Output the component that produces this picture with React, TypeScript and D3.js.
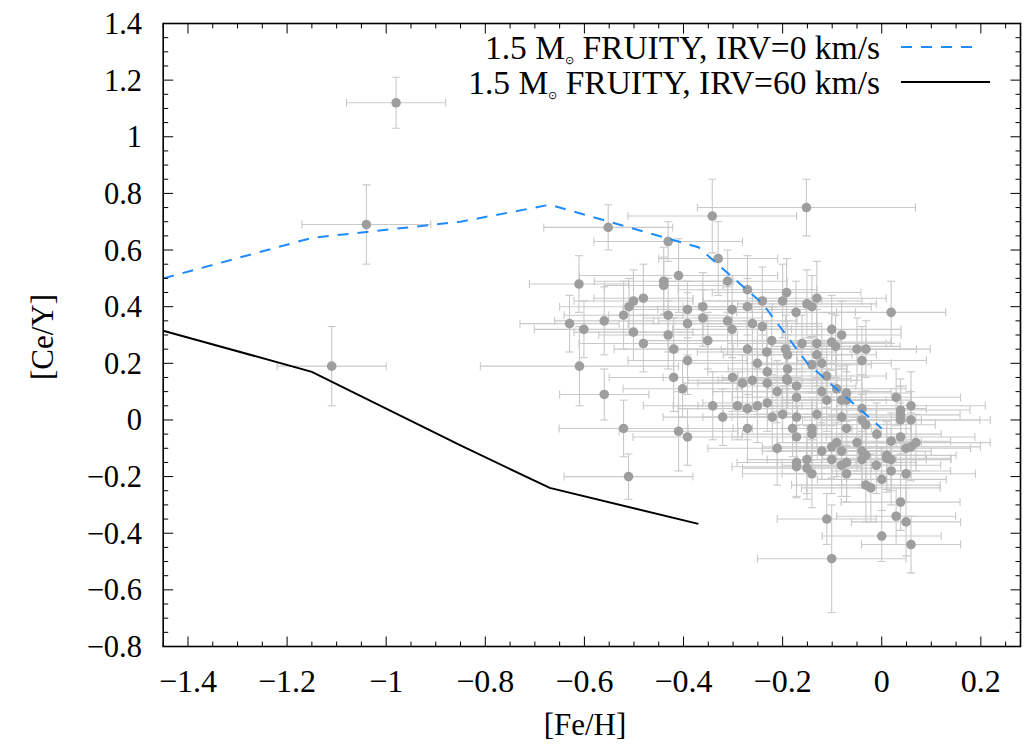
import React from 'react';
import * as d3 from 'd3';

// ---- observed stars ----
const feH = [
  -0.98, -1.04, -1.11, -0.61, -0.152, -0.342, -0.552, -0.431, -0.33, -0.611,
  -0.44, -0.44, -0.41, -0.311, -0.271, -0.241, -0.2, -0.192, -0.173, -0.271,
  -0.481, -0.501, -0.51, -0.521, -0.56, -0.63, -0.601, -0.501, -0.481, -0.431,
  -0.431, -0.392, -0.392, -0.361, -0.361, -0.311, -0.302, -0.302, -0.261, -0.241,
  -0.222, -0.351, -0.42, -0.271, -0.194, -0.151, -0.141, -0.131, 0.019, -0.101,
  -0.081, -0.161, -0.131, -0.101, -0.093, -0.05, -0.032, -0.392, -0.232, -0.19,
  -0.56, -0.42, -0.402, -0.301, -0.281, -0.261, -0.251, -0.231, -0.231, -0.211,
  -0.19, -0.19, -0.172, -0.172, -0.341, -0.321, -0.291, -0.271, -0.251, -0.231,
  -0.221, -0.2, -0.172, -0.271, -0.18, -0.172, -0.211, -0.172, -0.172, -0.521,
  -0.41, -0.392, -0.511, -0.04, -0.131, -0.121, -0.141, -0.192, -0.111, -0.091,
  -0.071, -0.081, -0.071, -0.121, -0.111, 0.029, 0.059, 0.038, 0.038, 0.059,
  0.038, -0.04, -0.04, -0.032, -0.01, -0.131, -0.081, -0.071, -0.141, -0.141,
  -0.05, -0.091, -0.101, -0.081, -0.121, -0.04, -0.032, -0.04, 0.01, 0.019,
  0.038, 0.049, 0.059, 0.069, 0.01, 0.019, -0.011, 0.019, 0.0, 0.049,
  -0.101, -0.081, -0.071, -0.071, -0.151, -0.151, -0.141, -0.032, -0.022, -0.111,
  0.029, 0.038, 0.049, 0.0, 0.059, -0.101,
];
const ceY = [
  1.12, 0.69, 0.19, 0.19, 0.75, 0.72, 0.68, 0.63, 0.57, 0.48,
  0.49, 0.475, 0.51, 0.49, 0.46, 0.42, 0.42, 0.45, 0.38, 0.4,
  0.43, 0.42, 0.4, 0.37, 0.35, 0.34, 0.32, 0.31, 0.27, 0.37,
  0.3, 0.39, 0.34, 0.4, 0.36, 0.35, 0.32, 0.39, 0.34, 0.33,
  0.28, 0.28, 0.25, 0.25, 0.25, 0.41, 0.4, 0.43, 0.38, 0.32,
  0.3, 0.27, 0.27, 0.275, 0.26, 0.25, 0.25, 0.21, 0.24, 0.23,
  0.09, 0.15, 0.11, 0.15, 0.13, 0.14, 0.2, 0.17, 0.13, 0.1,
  0.18, 0.14, 0.12, 0.08, 0.05, 0.01, 0.05, 0.04, 0.05, 0.06,
  0.01, 0.02, 0.01, -0.03, -0.03, -0.06, -0.1, -0.15, -0.165, -0.03,
  -0.04, -0.06, -0.2, 0.21, 0.23, 0.2, 0.195, 0.145, 0.155, 0.11,
  0.095, 0.07, 0.07, 0.1, 0.07, 0.08, 0.05, 0.035, 0.0, 0.0,
  0.018, 0.04, 0.0, -0.017, -0.05, 0.02, 0.01, -0.03, -0.03, -0.05,
  -0.08, -0.08, -0.095, -0.11, -0.11, -0.11, -0.125, -0.14, -0.125, -0.075,
  -0.06, -0.1, -0.095, -0.08, -0.135, -0.14, -0.16, -0.18, -0.21, -0.19,
  -0.14, -0.16, -0.15, -0.19, -0.14, -0.17, -0.19, -0.23, -0.24, -0.35,
  -0.34, -0.29, -0.36, -0.41, -0.44, -0.49,
];
const feHErr = [
  0.1, 0.13, 0.11, 0.2, 0.22, 0.17, 0.13, 0.15, 0.12, 0.1,
  0.14, 0.12, 0.2, 0.12, 0.14, 0.12, 0.16, 0.15, 0.12, 0.13,
  0.1, 0.12, 0.14, 0.12, 0.1, 0.1, 0.1, 0.12, 0.13, 0.12,
  0.14, 0.13, 0.12, 0.14, 0.12, 0.14, 0.12, 0.15, 0.13, 0.12,
  0.14, 0.13, 0.12, 0.14, 0.13, 0.14, 0.12, 0.14, 0.11, 0.14,
  0.12, 0.13, 0.14, 0.12, 0.13, 0.12, 0.13, 0.12, 0.14, 0.13,
  0.09, 0.13, 0.12, 0.14, 0.12, 0.13, 0.14, 0.12, 0.14, 0.13,
  0.12, 0.14, 0.12, 0.13, 0.14, 0.12, 0.13, 0.14, 0.12, 0.13,
  0.14, 0.12, 0.13, 0.14, 0.12, 0.13, 0.14, 0.12, 0.13, 0.13,
  0.12, 0.11, 0.13, 0.13, 0.12, 0.14, 0.12, 0.13, 0.12, 0.14,
  0.13, 0.12, 0.13, 0.14, 0.12, 0.13, 0.15, 0.14, 0.16, 0.16,
  0.12, 0.13, 0.12, 0.14, 0.13, 0.12, 0.14, 0.13, 0.12, 0.14,
  0.13, 0.12, 0.14, 0.13, 0.12, 0.14, 0.12, 0.13, 0.14, 0.12,
  0.15, 0.13, 0.14, 0.15, 0.13, 0.12, 0.13, 0.12, 0.13, 0.14,
  0.13, 0.12, 0.14, 0.13, 0.12, 0.13, 0.14, 0.15, 0.14, 0.1,
  0.12, 0.12, 0.11, 0.12, 0.1, 0.15,
];
const ceYErr = [
  0.09, 0.14, 0.14, 0.14, 0.1, 0.13, 0.08, 0.07, 0.13, 0.1,
  0.12, 0.1, 0.13, 0.11, 0.12, 0.12, 0.13, 0.12, 0.11, 0.1,
  0.12, 0.11, 0.1, 0.12, 0.12, 0.1, 0.1, 0.1, 0.1, 0.13,
  0.12, 0.1, 0.11, 0.12, 0.1, 0.12, 0.1, 0.12, 0.11, 0.1,
  0.12, 0.1, 0.11, 0.1, 0.12, 0.12, 0.11, 0.13, 0.11, 0.12,
  0.12, 0.1, 0.12, 0.1, 0.11, 0.11, 0.1, 0.12, 0.11, 0.12,
  0.09, 0.12, 0.1, 0.12, 0.1, 0.11, 0.12, 0.1, 0.12, 0.11,
  0.12, 0.1, 0.12, 0.1, 0.12, 0.1, 0.12, 0.11, 0.13, 0.1,
  0.12, 0.1, 0.12, 0.12, 0.1, 0.11, 0.13, 0.12, 0.11, 0.1,
  0.14, 0.1, 0.08, 0.12, 0.11, 0.12, 0.1, 0.12, 0.11, 0.12,
  0.1, 0.12, 0.1, 0.12, 0.11, 0.1, 0.12, 0.11, 0.12, 0.1,
  0.1, 0.12, 0.1, 0.12, 0.11, 0.12, 0.1, 0.12, 0.11, 0.12,
  0.1, 0.12, 0.11, 0.12, 0.1, 0.12, 0.11, 0.1, 0.12, 0.1,
  0.12, 0.11, 0.12, 0.1, 0.12, 0.11, 0.1, 0.12, 0.11, 0.1,
  0.12, 0.11, 0.12, 0.1, 0.12, 0.11, 0.12, 0.13, 0.12, 0.09,
  0.1, 0.1, 0.12, 0.09, 0.1, 0.19,
];

// ---- FRUITY 1.5 Msun models ----
const modelFeH0 = [-1.45, -1.15, -0.85, -0.67, -0.37, -0.24, -0.15, 0.0];
const modelCeY0 = [0.5, 0.643, 0.7, 0.76, 0.61, 0.41, 0.2, -0.03];
const modelFeH60 = [-1.45, -1.15, -0.85, -0.67, -0.37];
const modelCeY60 = [0.315, 0.17, -0.09, -0.24, -0.367];

const xTicks = [-1.4, -1.2, -1, -0.8, -0.6, -0.4, -0.2, 0, 0.2];
const yTicks = [-0.8, -0.6, -0.4, -0.2, 0, 0.2, 0.4, 0.6, 0.8, 1, 1.2, 1.4];
const legendLabels = ['IRV=0 km/s', 'IRV=60 km/s'];

const W = 1025;
const H = 746;
const L = 163.2;
const R = 1020.5;
const T = 23.5;
const B = 646.5;
const FONT = '"Liberation Serif", "Times New Roman", serif';

const fmt = (v: number) => {
  const a = Math.abs(v);
  const s = String(+a.toFixed(1));
  return (v < -1e-9 ? '\u2212' : '') + s;
};

export default function App() {
  const x = d3.scaleLinear().domain([-1.45, 0.28]).range([L, R]);
  const y = d3.scaleLinear().domain([-0.8, 1.4]).range([B, T]);

  const xMinor = d3.range(-29, 6).map((i) => i * 0.05).filter((v) => v >= -1.45 - 1e-9 && v <= 0.28);
  const yMinor = d3.range(-16, 29).map((i) => i * 0.05);
  const isMajor = (v: number) => Math.abs(v / 0.2 - Math.round(v / 0.2)) < 1e-6;

  const lineGen = d3
    .line<[number, number]>()
    .x((d) => x(d[0]))
    .y((d) => y(d[1]));
  const path0 = lineGen(modelFeH0.map((v, i) => [v, modelCeY0[i]] as [number, number]));
  const path60 = lineGen(modelFeH60.map((v, i) => [v, modelCeY60[i]] as [number, number]));

  const cap = 4;
  const barColor = '#c9c9c9';

  return (
    <svg
      width={W}
      height={H}
      style={{ position: 'absolute', left: 0, top: 0, background: '#fff' }}
      fontFamily={FONT}
    >
      <defs>
        <clipPath id="plot">
          <rect x={L} y={T} width={R - L} height={B - T} />
        </clipPath>
      </defs>
      <rect x={0} y={0} width={W} height={H} fill="#fff" />

      {/* error bars */}
      <g clipPath="url(#plot)" stroke={barColor} strokeWidth={1.1} fill="none">
        {feH.map((fx, i) => {
          const cx = x(fx);
          const cy = y(ceY[i]);
          const x0 = x(fx - feHErr[i]);
          const x1 = x(fx + feHErr[i]);
          const y0 = y(ceY[i] - ceYErr[i]);
          const y1 = y(ceY[i] + ceYErr[i]);
          return (
            <g key={'e' + i}>
              <line x1={x0} x2={x1} y1={cy} y2={cy} />
              <line x1={x0} x2={x0} y1={cy - cap} y2={cy + cap} />
              <line x1={x1} x2={x1} y1={cy - cap} y2={cy + cap} />
              <line x1={cx} x2={cx} y1={y0} y2={y1} />
              <line x1={cx - cap} x2={cx + cap} y1={y0} y2={y0} />
              <line x1={cx - cap} x2={cx + cap} y1={y1} y2={y1} />
            </g>
          );
        })}
      </g>

      {/* points */}
      <g clipPath="url(#plot)" fill="#9e9e9e">
        {feH.map((fx, i) => (
          <circle key={'p' + i} cx={x(fx)} cy={y(ceY[i])} r={4.8} />
        ))}
      </g>

      {/* model lines */}
      <g clipPath="url(#plot)" fill="none">
        <path d={path0 || ''} stroke="#1e8cff" strokeWidth={2} strokeDasharray="11 9" />
        <path d={path60 || ''} stroke="#000" strokeWidth={2} />
      </g>

      {/* frame */}
      <rect x={L} y={T} width={R - L} height={B - T} fill="none" stroke="#000" strokeWidth={1.6} />

      {/* ticks */}
      <g stroke="#000" strokeWidth={1}>
        {xMinor.map((v, i) => {
          const len = isMajor(v) ? 10 : 5;
          const px = x(v);
          return (
            <g key={'xt' + i}>
              <line x1={px} x2={px} y1={B} y2={B - len} />
              <line x1={px} x2={px} y1={T} y2={T + len} />
            </g>
          );
        })}
        {yMinor.map((v, i) => {
          const len = isMajor(v) ? 10 : 5;
          const py = y(v);
          return (
            <g key={'yt' + i}>
              <line x1={L} x2={L + len} y1={py} y2={py} />
              <line x1={R} x2={R - len} y1={py} y2={py} />
            </g>
          );
        })}
      </g>

      {/* tick labels */}
      <g fill="#000">
        {xTicks.map((v) => (
          <text key={'xl' + v} x={x(v)} y={692} textAnchor="middle" fontSize={32}>
            {fmt(v)}
          </text>
        ))}
        {yTicks.map((v) => (
          <text key={'yl' + v} x={142} y={y(v) + 10.5} textAnchor="end" fontSize={30.5}>
            {fmt(v)}
          </text>
        ))}
      </g>

      {/* axis titles */}
      <text x={585} y={735} fontSize={31} textAnchor="middle">
        [Fe/H]
      </text>
      <text transform="translate(53,337) rotate(-90)" fontSize={31} textAnchor="middle">
        [Ce/Y]
      </text>

      {/* legend */}
      <g fontSize={33.5}>
        {legendLabels.map((lab, i) => (
          <text key={'lg' + i} x={880} y={59 + i * 35} textAnchor="end">
            1.5 M
            <tspan fontSize={11} dy={5}>
              {'\u2299'}
            </tspan>
            <tspan dy={-5}>{' FRUITY, ' + lab}</tspan>
          </text>
        ))}
        <line x1={901} x2={977} y1={47} y2={47} stroke="#1e8cff" strokeWidth={2} strokeDasharray="11 9" />
        <line x1={901} x2={990} y1={82} y2={82} stroke="#000" strokeWidth={2} />
      </g>
    </svg>
  );
}
